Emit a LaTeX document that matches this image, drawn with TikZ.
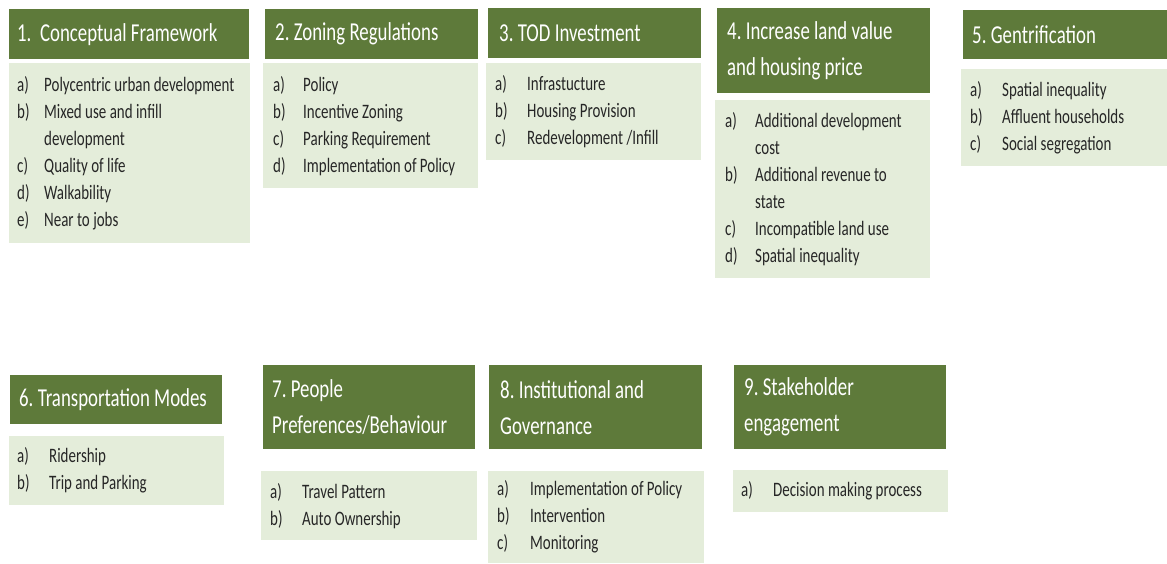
\documentclass[tikz,border=0pt]{standalone}
\usepackage{fontspec}
\setmainfont{Carlito}[FakeStretch=0.73]
\definecolor{hdgreen}{RGB}{94,122,58}
\definecolor{bdgreen}{RGB}{228,237,218}
\newlength\labw
\setlength\labw{31pt}
\newcommand{\itm}[1]{\makebox[\labw][l]{#1}}
\newcommand{\hdfont}{\fontsize{25.8}{36}\selectfont\frenchspacing\fontdimen2\font=4.3pt\fontdimen3\font=0pt\fontdimen4\font=0pt}
\newcommand{\bdfont}{\fontsize{20.5}{27}\selectfont\frenchspacing\fontdimen2\font=3.4pt\fontdimen3\font=0pt\fontdimen4\font=0pt}

\begin{document}
\begin{tikzpicture}
  [x=1pt,y=-1pt,
   hd/.style={fill=hdgreen,text=white,anchor=north west,inner sep=0pt,align=flush left,font=\hdfont},
   bd/.style={fill=bdgreen,text=black!85,anchor=north west,inner sep=0pt,align=flush left,font=\bdfont}]
  \useasboundingbox (0,0) rectangle (1167,563);

  \node[hd,minimum width=240,minimum height=50,text width=224] (h1) at (9,9) {1.\ \ Conceptual Framework};
  \node[bd,minimum width=241,minimum height=180,text width=225] (b1) at (9,63)
    {\setlength\labw{27pt}\itm{a)}Polycentric urban development\\ \itm{b)}Mixed use and infill\\ \itm{}development\\ \itm{c)}Quality of life\\ \itm{d)}Walkability\\ \itm{e)}Near to jobs};

  \node[hd,minimum width=213,minimum height=50,text width=193] (h2) at (265,9) {2. Zoning Regulations};
  \node[bd,minimum width=215,minimum height=125,text width=195] (b2) at (263,63)
    {\setlength\labw{30pt}\itm{a)}Policy\\ \itm{b)}Incentive Zoning\\ \itm{c)}Parking Requirement\\ \itm{d)}Implementation of Policy};

  \node[hd,minimum width=213,minimum height=50,text width=191] (h3) at (488,8) {3. TOD Investment};
  \node[bd,minimum width=215,minimum height=97,text width=197] (b3) at (486,63)
    {\setlength\labw{32pt}\itm{a)}Infrastucture\\ \itm{b)}Housing Provision\\ \itm{c)}Redevelopment /Infill};

  \node[hd,minimum width=213,minimum height=85,text width=193] (h4) at (717,8) {4. Increase land value\\and housing price};
  \node[bd,minimum width=215,minimum height=178,text width=195] (b4) at (715,100)
    {\setlength\labw{30pt}\itm{a)}Additional development\\ \itm{}cost\\ \itm{b)}Additional revenue to\\ \itm{}state\\ \itm{c)}Incompatible land use\\ \itm{d)}Spatial inequality};

  \node[hd,minimum width=204,minimum height=49,text width=186] (h5) at (963,10) {5. Gentrification};
  \node[bd,minimum width=206,minimum height=97,text width=188] (b5) at (961,69)
    {\setlength\labw{32pt}\itm{a)}Spatial inequality\\ \itm{b)}Affluent households\\ \itm{c)}Social segregation};

  \node[hd,minimum width=212,minimum height=49,text width=194] (h6) at (10,375) {6. Transportation Modes};
  \node[bd,minimum width=215,minimum height=69,text width=199] (b6) at (9,436)
    {\setlength\labw{32pt}\itm{a)}Ridership\\ \itm{b)}Trip and Parking};

  \node[hd,minimum width=212,minimum height=84,text width=194] (h7) at (263,365) {7. People\\Preferences/Behaviour};
  \node[bd,minimum width=216,minimum height=69,text width=198] (b7) at (261,471)
    {\setlength\labw{32pt}\itm{a)}Travel Pattern\\ \itm{b)}Auto Ownership};

  \node[hd,minimum width=213,minimum height=84,text width=191] (h8) at (489,365) {8. Institutional and\\Governance};
  \node[bd,minimum width=216,minimum height=92,text width=198] (b8) at (488,471)
    {\setlength\labw{33pt}\itm{a)}Implementation of Policy\\ \itm{b)}Intervention\\ \itm{c)}Monitoring};

  \node[hd,minimum width=212,minimum height=84,text width=192] (h9) at (734,365) {9. Stakeholder\\engagement};
  \node[bd,minimum width=215,minimum height=42,text width=199] (b9) at (733,470)
    {\setlength\labw{32pt}\itm{a)}Decision making process};

\end{tikzpicture}
\end{document}
